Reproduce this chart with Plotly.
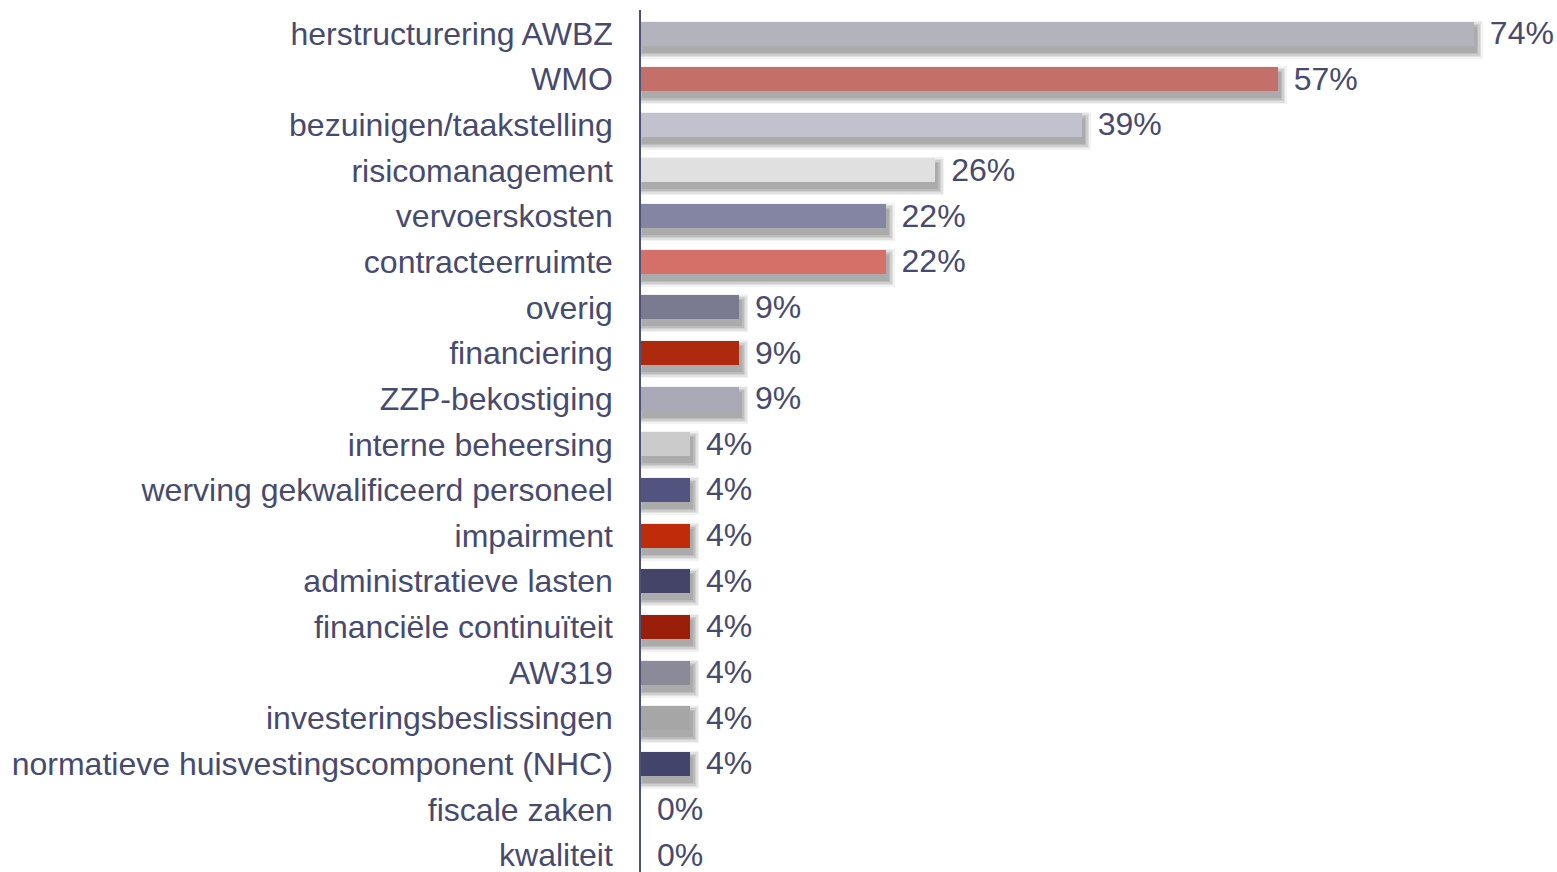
import plotly.graph_objects as go

categories = [
    "herstructurering AWBZ", "WMO", "bezuinigen/taakstelling", "risicomanagement",
    "vervoerskosten", "contracteerruimte", "overig", "financiering", "ZZP-bekostiging",
    "interne beheersing", "werving gekwalificeerd personeel", "impairment",
    "administratieve lasten", "financiële continuïteit", "AW319",
    "investeringsbeslissingen", "normatieve huisvestingscomponent (NHC)",
    "fiscale zaken", "kwaliteit",
]
values = [73.9, 56.5, 39.1, 26.1, 21.7, 21.7, 8.7, 8.7, 8.7,
          4.35, 4.35, 4.35, 4.35, 4.35, 4.35, 4.35, 4.35, 0, 0]
labels = ["74%", "57%", "39%", "26%", "22%", "22%", "9%", "9%", "9%",
          "4%", "4%", "4%", "4%", "4%", "4%", "4%", "4%", "0%", "0%"]
colors = ["#b3b3be", "#c4706a", "#c2c2ce", "#e0e0e0", "#8385a3", "#d57068",
          "#7a7b90", "#ad2a0f", "#a9a9b7", "#cbcbcb", "#52547f", "#c02c0a",
          "#434468", "#9a1f0a", "#8a8a99", "#a6a6a6", "#43446b", "#ffffff", "#ffffff"]

TEXT = "#474a70"
FONT = "Liberation Sans, Arial, sans-serif"
FS = 32

W, H = 1557, 872
ML, MR, MT, MB = 641, 20, 10, 0
PX_PER_X = 11.27
X_MAX = (W - ML - MR) / PX_PER_X
Y_RANGE = [18.37, -0.515]
PX_PER_Y = (H - MT - MB) / (Y_RANGE[0] - Y_RANGE[1])

idx = list(range(len(categories)))
BAR_W = 24 / PX_PER_Y
TEXT_DY = 2.5 / PX_PER_Y

fig = go.Figure()

# soft drop shadow (several translucent layers)
shadow_layers = [(14, 0.06), (11, 0.08), (8, 0.09), (5, 0.10), (2, 0.10)]
for grow, op in shadow_layers:
    dx = 2 / PX_PER_X
    dy = 6 / PX_PER_Y
    g = grow / PX_PER_X
    fig.add_trace(go.Bar(
        orientation="h",
        y=[i + dy for i in idx],
        x=[v + g if v > 0 else 0 for v in values],
        base=[dx - g / 2 if v > 0 else 0 for v in values],
        width=BAR_W + grow / PX_PER_Y,
        marker=dict(color=f"rgba(30,30,30,{op})", line=dict(width=0)),
        hoverinfo="skip", showlegend=False,
    ))

fig.add_trace(go.Bar(
    orientation="h",
    y=idx,
    x=values,
    width=BAR_W,
    marker=dict(color=colors, line=dict(width=0)),
    showlegend=False,
))

fig.add_trace(go.Scatter(
    x=values, y=[i + TEXT_DY for i in idx], mode="text",
    text=["\u2002" + t for t in labels],
    textposition="middle right",
    textfont=dict(family=FONT, size=FS, color=TEXT),
    showlegend=False, hoverinfo="skip", cliponaxis=False,
))

fig.update_layout(
    width=W, height=H,
    margin=dict(l=ML, r=MR, t=MT, b=MB, pad=0, autoexpand=False),
    paper_bgcolor="white", plot_bgcolor="white",
    barmode="overlay", bargap=0,
    font=dict(family=FONT, size=FS, color=TEXT),
)
fig.update_xaxes(range=[0, X_MAX], showgrid=False, zeroline=False, automargin=False,
                 showticklabels=False, showline=False, ticks="")
fig.update_yaxes(range=Y_RANGE, tickmode="array", tickvals=idx, ticktext=categories,
                 showgrid=False, zeroline=False, showline=True, linecolor="#4f5078",
                 linewidth=1.5, ticks="", ticklabelstandoff=20, automargin=False,
                 ticklabeloverflow="allow",
                 tickfont=dict(family=FONT, size=FS, color=TEXT))

fig.write_html("out.html", config={"displayModeBar": False},
               post_script="document.body.style.margin='0px';document.body.style.overflow='hidden';")
